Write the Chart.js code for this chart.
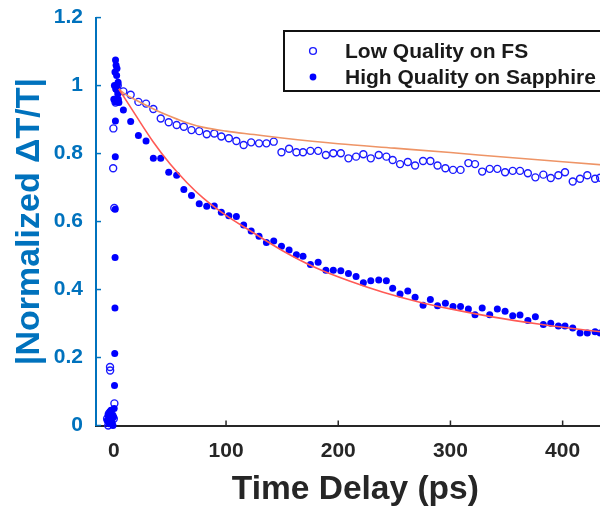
<!DOCTYPE html>
<html>
<head>
<meta charset="utf-8">
<script src="https://cdn.jsdelivr.net/npm/chart.js@4.4.1/dist/chart.umd.min.js"></script>
<style>
    html, body { margin: 0; padding: 0; background: #fff; overflow: hidden; }
    /* the original figure is cropped on the right, so the canvas runs past the frame */
    #wrap { position: relative; width: 600px; height: 511px; overflow: hidden; }
</style>
</head>
<body>
<div id="wrap"><canvas id="myChart" width="620" height="511"></canvas></div>
<script>
"use strict";

// time delays (ps) of the decay part, same grid for both samples
var tailTimes = [8.5, 15, 21.9, 28.7, 35.2, 41.8, 48.9, 56, 62.4, 69.2,
    76.1, 82.8, 89.5, 95.8, 102.5, 109.2, 115.7, 122.4, 129.4, 136,
    142.5, 149.4, 156.2, 162.7, 168.6, 175.2, 182.1, 189, 195.6, 202.3,
    209.1, 215.9, 222.4, 229, 236.1, 242.9, 248.5, 255.1, 262, 268.5,
    275.6, 282.1, 288.5, 295.5, 302.3, 309, 316, 321.9, 328.3, 335,
    341.8, 348.7, 355.5, 362, 369, 375.7, 382.8, 389.4, 396.2, 402.1,
    409, 415.5, 422, 428.9, 433.4];

var lowTail = [0.983, 0.973, 0.952, 0.947, 0.931, 0.903, 0.892, 0.884, 0.879, 0.869,
    0.866, 0.857, 0.859, 0.850, 0.845, 0.837, 0.825, 0.833, 0.830, 0.830,
    0.835, 0.804, 0.814, 0.804, 0.804, 0.808, 0.808, 0.796, 0.801, 0.801,
    0.786, 0.791, 0.798, 0.786, 0.796, 0.791, 0.781, 0.769, 0.775, 0.765,
    0.778, 0.778, 0.765, 0.757, 0.752, 0.752, 0.772, 0.769, 0.747, 0.755,
    0.755, 0.745, 0.749, 0.749, 0.742, 0.730, 0.738, 0.728, 0.736, 0.745,
    0.718, 0.726, 0.736, 0.726, 0.729];

var highTail = [0.928, 0.894, 0.853, 0.837, 0.786, 0.786, 0.745, 0.736, 0.694, 0.677,
    0.652, 0.645, 0.646, 0.627, 0.617, 0.615, 0.590, 0.572, 0.557, 0.538,
    0.543, 0.527, 0.516, 0.502, 0.498, 0.474, 0.480, 0.457, 0.457, 0.455,
    0.447, 0.438, 0.420, 0.426, 0.428, 0.426, 0.404, 0.387, 0.396, 0.377,
    0.354, 0.371, 0.352, 0.360, 0.350, 0.350, 0.343, 0.326, 0.346, 0.326,
    0.343, 0.336, 0.323, 0.325, 0.309, 0.320, 0.297, 0.301, 0.293, 0.293,
    0.287, 0.272, 0.272, 0.276, 0.272];

// points around time zero (rise of the signal)
var lowPeakTimes = [-6, -5, -4.4, -3.8, -3.4, -3.3, -2.6, -2, -1.4, -0.6, -0.4, 0.4, 0.5, 0, 1.5, 2.5, 3.5];
var lowPeak = [0.02, 0.0, 0.035, 0.015, 0.172, 0.162, 0.04, 0.01, 0.03, 0.757, 0.874, 0.64, 0.065, 0.02, 0.95, 0.99, 1.0];

var highPeakTimes = [-6, -5.2, -4.5, -3.8, -3.2, -2.6, -2, -1.4, -0.8, -0.2, 0.3,
    0.6, 0.8, 1.0, 1.1, 1.2, 1.3, 1.4, 1.5,
    0, 0.5, 1, 1.5, 2, 2.5, 3, 3.5, 4, 4.5, 1.8, 2.8, 3.8];
var highPeak = [0.015, 0.03, 0.005, 0.04, 0.02, 0.045, 0.01, 0.03, 0.0, 0.025, 0.05,
    0.118, 0.212, 0.346, 0.494, 0.636, 0.791, 0.896, 0.952,
    0.96, 1.0, 1.04, 1.075, 1.06, 1.03, 1.0, 0.975, 0.96, 0.95, 0.99, 1.05, 1.01];

// fitted decay curves
var lowFitTimes = [4.5, 10, 20, 30, 40, 50, 65, 80, 100, 125, 150, 200, 250, 300, 350, 400, 450];
var lowFit = [0.99, 0.975, 0.957, 0.94, 0.924, 0.91, 0.891, 0.877, 0.866, 0.856, 0.846, 0.829, 0.816, 0.803, 0.789, 0.776, 0.763];
var highFitTimes = [4.5, 20, 35, 50, 65, 80, 100, 120, 150, 180, 210, 240, 270, 300, 340, 380, 420, 450];
var highFit = [0.99, 0.91, 0.835, 0.77, 0.715, 0.668, 0.618, 0.576, 0.515, 0.464, 0.425, 0.392, 0.365, 0.343, 0.318, 0.298, 0.281, 0.27];

var seriesLabels = ['Low Quality on FS', 'High Quality on Sapphire'];
var xTicks = [0, 100, 200, 300, 400];
var xTickLabels = ['0', '100', '200', '300', '400'];
var yTicks = [0, 0.2, 0.4, 0.6, 0.8, 1, 1.2];
var yTickLabels = ['0', '0.2', '0.4', '0.6', '0.8', '1', '1.2'];

var FONT = '"Liberation Sans", Arial, Helvetica, sans-serif';
var BLUE_AXIS = '#0072BD';
var DARK = '#262626';
var X_MIN = -15.9;      // left end of the time axis
var PX_PER_PS = 1.122;  // horizontal zoom of the original figure

function toPoints(xs, ys) {
    var out = [];
    for (var i = 0; i < xs.length; i++) {
        out.push({ x: xs[i], y: ys[i] });
    }
    return out;
}

// inward tick marks (matlab style)
var innerTicks = {
    id: 'innerTicks',
    beforeDatasetsDraw: function (chart) {
        var ctx = chart.ctx, area = chart.chartArea;
        var sx = chart.scales.x, sy = chart.scales.y;
        ctx.save();
        ctx.lineWidth = 1.5;
        ctx.strokeStyle = DARK;
        xTicks.forEach(function (v) {
            var px = sx.getPixelForValue(v);
            ctx.beginPath();
            ctx.moveTo(px, area.bottom);
            ctx.lineTo(px, area.bottom - 5);
            ctx.stroke();
        });
        ctx.strokeStyle = BLUE_AXIS;
        yTicks.forEach(function (v) {
            var py = sy.getPixelForValue(v);
            ctx.beginPath();
            ctx.moveTo(area.left, py);
            ctx.lineTo(area.left + 5, py);
            ctx.stroke();
        });
        ctx.restore();
    }
};

// boxed legend in the upper right corner
var boxLegend = {
    id: 'boxLegend',
    afterDraw: function (chart) {
        var ctx = chart.ctx;
        var left = 284, top = 31, h = 60;
        ctx.save();
        ctx.fillStyle = '#fff';
        ctx.fillRect(left, top, 360, h);
        ctx.lineWidth = 2;
        ctx.strokeStyle = '#111';
        ctx.strokeRect(left, top, 360, h);

        var rows = [51, 77];
        chart.data.datasets.slice(0, 2).forEach(function (ds, i) {
            ctx.beginPath();
            ctx.arc(313, rows[i], 3.4, 0, Math.PI * 2);
            if (i === 0) {
                ctx.lineWidth = 1.4;
                ctx.strokeStyle = ds.borderColor;
                ctx.stroke();
            } else {
                ctx.fillStyle = ds.backgroundColor;
                ctx.fill();
            }
            ctx.fillStyle = '#1a1a1a';
            ctx.font = 'bold 21px ' + FONT;
            ctx.textBaseline = 'middle';
            ctx.textAlign = 'left';
            ctx.fillText(ds.label, 345, rows[i] + 1);
        });
        ctx.restore();
    }
};

var ctx = document.getElementById('myChart').getContext('2d');
var chart = new Chart(ctx, {
    type: 'scatter',
    data: {
        datasets: [
            {
                label: seriesLabels[0],
                data: toPoints(lowPeakTimes.concat(tailTimes), lowPeak.concat(lowTail)),
                pointRadius: 3.5,
                pointBorderWidth: 1.4,
                borderColor: '#1a1aff',
                backgroundColor: 'rgba(255,255,255,0)',
                clip: false,
                order: 3
            },
            {
                label: seriesLabels[1],
                data: toPoints(highPeakTimes.concat(tailTimes), highPeak.concat(highTail)),
                pointRadius: 3.5,
                pointBorderWidth: 0,
                borderColor: '#0000ff',
                backgroundColor: '#0000ff',
                clip: false,
                order: 2
            },
            {
                label: 'fit low',
                data: toPoints(lowFitTimes, lowFit),
                showLine: true,
                pointRadius: 0,
                borderColor: '#EE9466',
                borderWidth: 1.6,
                cubicInterpolationMode: 'monotone',
                order: 1
            },
            {
                label: 'fit high',
                data: toPoints(highFitTimes, highFit),
                showLine: true,
                pointRadius: 0,
                borderColor: '#FF5A55',
                borderWidth: 1.6,
                cubicInterpolationMode: 'monotone',
                order: 0
            }
        ]
    },
    options: {
        responsive: false,
        animation: false,
        devicePixelRatio: 1,
        events: [],
        layout: {
            padding: { left: 0, top: 16, right: 0, bottom: 0 }
        },
        plugins: {
            legend: { display: false },
            tooltip: { enabled: false }
        },
        scales: {
            x: {
                type: 'linear',
                min: X_MIN,
                max: 450,
                afterBuildTicks: function (scale) {
                    scale.ticks = xTicks.map(function (v) { return { value: v }; });
                },
                afterFit: function (scale) { scale.height = 85.5; },
                grid: { display: false },
                border: { display: true, color: DARK, width: 2 },
                ticks: {
                    color: DARK,
                    padding: 5,
                    maxRotation: 0,
                    autoSkip: false,
                    font: { family: FONT, size: 21, weight: 'bold' },
                    callback: function (value, index) { return xTickLabels[index]; }
                },
                title: {
                    display: true,
                    text: 'Time Delay (ps)',
                    color: DARK,
                    font: { family: FONT, size: 33.5, weight: 'bold' },
                    padding: { top: 0, bottom: 1 }
                }
            },
            y: {
                type: 'linear',
                min: 0,
                max: 1.2,
                afterBuildTicks: function (scale) {
                    scale.ticks = yTicks.map(function (v) { return { value: v }; });
                },
                afterFit: function (scale) { scale.width = 96; },
                grid: { display: false },
                border: { display: true, color: BLUE_AXIS, width: 2 },
                ticks: {
                    color: BLUE_AXIS,
                    padding: 5,
                    font: { family: FONT, size: 21, weight: 'bold' },
                    callback: function (value, index) { return yTickLabels[index]; }
                },
                title: {
                    display: true,
                    text: '|Normalized \u0394T/T|',
                    color: BLUE_AXIS,
                    font: { family: FONT, size: 34, weight: 'bold' },
                    padding: { top: 9, bottom: 0 }
                }
            }
        }
    },
    plugins: [innerTicks, boxLegend]
});

// now that the plot area is known, set the axis end so 1 ps keeps the figure's width
var area = chart.chartArea;
chart.options.scales.x.max = X_MIN + (area.right - area.left) / PX_PER_PS;
chart.update();
</script>
</body>
</html>
